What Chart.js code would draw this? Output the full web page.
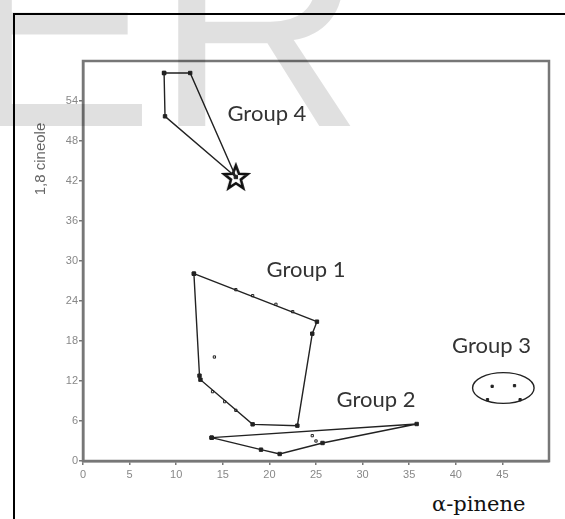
<!DOCTYPE html>
<html>
<head>
<meta charset="utf-8">
<script src="https://cdn.jsdelivr.net/npm/chart.js@4.4.0/dist/chart.umd.min.js"></script>
<style>
  html, body { margin: 0; padding: 0; background: #fff; }
  body { width: 565px; height: 519px; position: relative; overflow: hidden; }
  .cell { position: absolute; left: 13px; top: 13px; width: 600px; height: 600px;
          border-left: 2px solid #000; border-top: 2px solid #000; }
  #plot { position: absolute; left: 0; top: 0; }
  .xname { position: absolute; left: 432px; top: 494px; font-family: "DejaVu Serif", serif;
           font-size: 21px; color: #111; line-height: 1; }
</style>
</head>
<body>
<div class="cell"></div>
<div class="xname">α-pinene</div>
<canvas id="plot" width="565" height="519"></canvas>
<script>
// hull outlines (closed) and loose points, [alpha-pinene, 1,8 cineole]
const group4Hull = [[8.7, 58.2], [11.5, 58.2], [16.4, 42.6], [8.8, 51.7], [8.7, 58.2]];
const group4Star = [[16.4, 42.6]];

const group1Hull = [[11.9, 28.1], [25.1, 20.9], [24.6, 19.1], [23.0, 5.3], [18.2, 5.5], [12.6, 12.2], [12.5, 12.8], [11.9, 28.1]];
const group1Points = [[14.1, 15.6], [16.4, 25.7], [18.2, 24.8], [20.7, 23.5], [22.5, 22.4],
                      [13.9, 10.4], [15.2, 8.9], [16.4, 7.6]];

const group2Hull = [[13.8, 3.5], [35.8, 5.55], [25.7, 2.7], [21.1, 1.05], [19.1, 1.7], [13.8, 3.5]];
const group2Points = [[24.6, 3.8], [25.0, 3.0]];

const group3Points = [[43.9, 11.2], [46.3, 11.3], [43.4, 9.2], [46.9, 9.2]];
const group3Centre = [45.1, 10.95];
const group3Radius = [3.3, 2.3];

const groupNames = ['Group 1', 'Group 2', 'Group 3', 'Group 4'];
const groupLabelX = [19.7, 27.2, 39.6, 15.5];
const groupLabelY = [27.6, 8.1, 16.2, 51.0];

const xTicks = [0, 5, 10, 15, 20, 25, 30, 35, 40, 45];
const yTicks = [0, 6, 12, 18, 24, 30, 36, 42, 48, 54];

const toXY = pts => pts.map(p => ({ x: p[0], y: p[1] }));

// five-pointed outlined star for the Group 4 centroid
const star = document.createElement('canvas');
star.width = 30; star.height = 30;
(function () {
  const c = star.getContext('2d');
  c.beginPath();
  for (let i = 0; i < 10; i++) {
    const r = i % 2 ? 5.2 : 12.5;
    const a = -Math.PI / 2 + i * Math.PI / 5;
    c.lineTo(15 + r * Math.cos(a), 16 + r * Math.sin(a));
  }
  c.closePath();
  c.fillStyle = '#fff';
  c.fill();
  c.lineWidth = 2.6;
  c.lineJoin = 'miter';
  c.strokeStyle = '#111';
  c.stroke();
})();

const hull = (pts) => ({
  data: toXY(pts),
  showLine: true,
  borderColor: '#222',
  borderWidth: 1.4,
  pointStyle: 'rect',
  pointRadius: 2.4,
  pointBackgroundColor: '#222',
  pointBorderColor: '#222',
  pointBorderWidth: 1
});

const loose = (pts, r) => ({
  data: toXY(pts),
  showLine: false,
  pointStyle: 'rect',
  pointRadius: r,
  pointBackgroundColor: '#fff',
  pointBorderColor: '#222',
  pointBorderWidth: 1
});

const decor = {
  id: 'decor',
  afterDraw(chart) {
    const { ctx, chartArea: a, scales: { x, y } } = chart;
    ctx.save();

    // box round the plotting area
    ctx.strokeStyle = '#777';
    ctx.lineWidth = 2.5;
    ctx.strokeRect(a.left, a.top, a.right - a.left, a.bottom - a.top);

    // Group 3 ellipse
    const cx = x.getPixelForValue(group3Centre[0]);
    const cy = y.getPixelForValue(group3Centre[1]);
    const rx = x.getPixelForValue(group3Centre[0] + group3Radius[0]) - cx;
    const ry = cy - y.getPixelForValue(group3Centre[1] + group3Radius[1]);
    ctx.beginPath();
    ctx.ellipse(cx, cy, rx, ry, 0, 0, Math.PI * 2);
    ctx.strokeStyle = '#222';
    ctx.lineWidth = 1.4;
    ctx.stroke();

    // group names
    ctx.font = '22px Lato';
    ctx.fillStyle = '#333';
    ctx.textBaseline = 'alphabetic';
    groupNames.forEach((n, i) => {
      ctx.fillText(n, x.getPixelForValue(groupLabelX[i]), y.getPixelForValue(groupLabelY[i]));
    });

    // y axis name
    ctx.save();
    ctx.translate(41, 159);
    ctx.rotate(-Math.PI / 2);
    ctx.font = '15px "Liberation Sans"';
    ctx.fillStyle = '#666';
    ctx.textAlign = 'center';
    ctx.textBaseline = 'middle';
    ctx.fillText('1,8 cineole', 0, 0);
    ctx.restore();

    // faint letters across the top
    ctx.font = '290px "Liberation Sans"';
    ctx.fillStyle = 'rgba(0,0,0,0.12)';
    ctx.textAlign = 'left';
    ctx.textBaseline = 'alphabetic';
    ctx.fillText('ER', -39, 126);

    ctx.restore();
  }
};

new Chart(document.getElementById('plot'), {
  type: 'scatter',
  data: {
    datasets: [
      hull(group4Hull),
      { data: toXY(group4Star), pointStyle: star, pointRadius: 15 },
      hull(group1Hull),
      loose(group1Points, 1.6),
      hull(group2Hull),
      loose(group2Points, 1.6),
      { data: toXY(group3Points), pointStyle: 'rect', pointRadius: 1.6,
        pointBackgroundColor: '#222', pointBorderColor: '#222' }
    ]
  },
  options: {
    responsive: false,
    animation: false,
    layout: { padding: { left: 43, top: 61, right: 15, bottom: 28 } },
    plugins: { legend: { display: false }, tooltip: { enabled: false } },
    scales: {
      x: {
        type: 'linear', min: 0, max: 50,
        afterFit: s => { s.height = 30; },
        afterBuildTicks: s => { s.ticks = xTicks.map(v => ({ value: v })); },
        grid: { drawOnChartArea: false, color: '#777', lineWidth: 1.5, tickLength: 4 },
        border: { color: '#777', width: 2.5 },
        ticks: { color: '#888', padding: 3, font: { family: 'Liberation Sans', size: 11 } }
      },
      y: {
        type: 'linear', min: 0, max: 60,
        afterFit: s => { s.width = 40; },
        afterBuildTicks: s => { s.ticks = yTicks.map(v => ({ value: v })); },
        grid: { drawOnChartArea: false, color: '#777', lineWidth: 1.5, tickLength: 4 },
        border: { color: '#777', width: 2.5 },
        ticks: { color: '#888', padding: 1, font: { family: 'Liberation Sans', size: 11 } }
      }
    }
  },
  plugins: [decor]
});
</script>
</body>
</html>
